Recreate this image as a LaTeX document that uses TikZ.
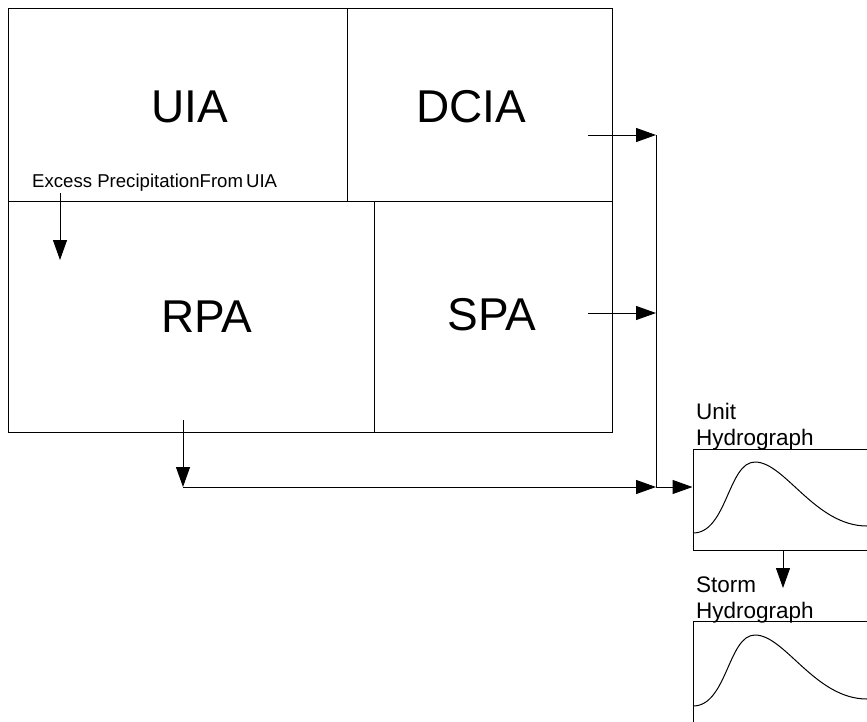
\documentclass[tikz,border=0pt]{standalone}
\usepackage{fontspec}
\setmainfont{Liberation Sans}
\usetikzlibrary{arrows.meta,calc}
\begin{document}
\begin{tikzpicture}[x=1pt,y=-1pt,
  cell/.style={draw=black,line width=1pt,inner sep=0pt,rectangle},
  big/.style={font=\fontsize{46}{50}\selectfont,inner sep=0pt},
  mid/.style={font=\fontsize{22.5}{26}\selectfont,inner sep=0pt,anchor=base west},
  small/.style={font=\fontsize{18.6}{21}\selectfont,inner sep=0pt,anchor=base west},
  wire/.style={line width=1pt,draw=black},
  arr/.style={wire,-{Triangle[length=20pt,width=14pt]}},
  curve/.style={line width=1pt,draw=black}]
\useasboundingbox (0,0) rectangle (867,721);
\clip (0,0) rectangle (867,721);
% area cells
\node[cell,minimum width=339pt,minimum height=193pt] (uia)  at (177.5,104.5) {};
\node[cell,minimum width=265pt,minimum height=193pt] (dcia) at (479.5,104.5) {};
\node[cell,minimum width=366pt,minimum height=231pt] (rpa)  at (191,316.5) {};
\node[cell,minimum width=238pt,minimum height=231pt] (spa)  at (493,316.5) {};
\node[big] (uiat)  at (190,106.5) {UIA};
\node[big] (dciat) at (471,106.5) {DCIA};
\node[big] (rpat)  at (207,316.5) {RPA};
\node[big] (spat)  at (492,315) {SPA};
\node[small] (excess) at (32,187) {Excess PrecipitationFrom\,UIA};
% hydrograph boxes
\node[cell,minimum width=187pt,minimum height=101pt] (unit)  at (786.5,499.5) {};
\node[cell,minimum width=187pt,minimum height=120pt] (storm) at (786.5,681) {};
\node[mid] (unitt1) at (696,419) {Unit};
\node[mid] (unitt2) at (696,445) {Hydrograph};
\node[mid] (stormt1) at (696,592) {Storm};
\node[mid] (stormt2) at (696,618) {Hydrograph};
% hydrograph curves
\draw[curve] (693,533) .. controls (727,533) and (728,462) .. (755,462)
  .. controls (785,462) and (815,526) .. (867,526);
\draw[curve] (693,706) .. controls (727,706) and (728,635) .. (755,635)
  .. controls (785,635) and (815,699) .. (867,699);
% connector points
\coordinate (exTop) at (60,193);
\coordinate (exEnd) at (60,260);
\coordinate (dciaOut) at (588,135);
\coordinate (j1) at (656,135);
\coordinate (spaOut) at (588,313);
\coordinate (j2) at (656,313);
\coordinate (rpaOut) at (183,420);
\coordinate (rpaDown) at (183,487);
\coordinate (j3) at (656,487);
\coordinate (unitOut) at (783,550);
\coordinate (unitEnd) at (783,588);
% connectors
\draw[arr] (exTop) -- (exEnd);
\draw[arr] (dciaOut) -- (j1);
\draw[arr] (spaOut) -- (j2);
\draw[wire] (j1) -- (j3);
\draw[arr] (rpaOut) -- (rpaDown);
\draw[arr] (rpaDown) -- (j3);
\draw[arr] (j3) -- (j3 -| unit.west);
\draw[arr] (unitOut) -- (unitEnd);
\end{tikzpicture}
\end{document}
